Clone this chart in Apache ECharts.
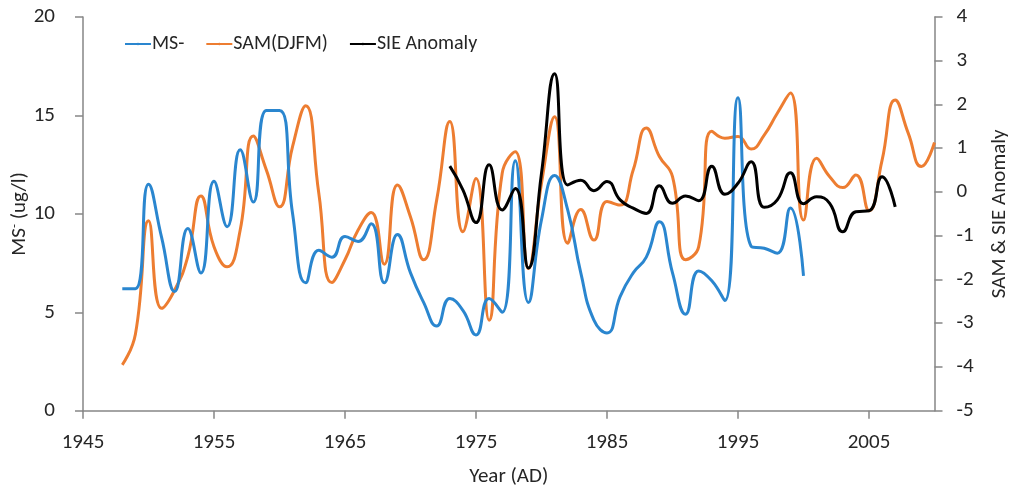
<!DOCTYPE html>
<html>
<head>
<meta charset="utf-8">
<script src="https://cdn.jsdelivr.net/npm/echarts@6/dist/echarts.min.js"></script>
<style>
  html, body { margin: 0; padding: 0; background: #fff; }
  #chart { width: 1019px; height: 492px; }
</style>
</head>
<body>
<div id="chart"></div>
<script>
// years 1948..2010
const years = [1948, 1949, 1950, 1951, 1952, 1953, 1954, 1955, 1956, 1957, 1958, 1959,
  1960, 1961, 1962, 1963, 1964, 1965, 1966, 1967, 1968, 1969, 1970, 1971, 1972, 1973,
  1974, 1975, 1976, 1977, 1978, 1979, 1980, 1981, 1982, 1983, 1984, 1985, 1986, 1987,
  1988, 1989, 1990, 1991, 1992, 1993, 1994, 1995, 1996, 1997, 1998, 1999, 2000, 2001,
  2002, 2003, 2004, 2005, 2006, 2007, 2008, 2009, 2010]

// MS- (ug/l), 1948..2000, left axis
const msValues = [6.2, 6.2, 11.5, 8.8, 6.05, 9.25, 7.0, 11.65, 9.35, 13.25, 10.6, 15.25,
  15.25, 10.0, 6.5, 8.15, 7.8, 8.85, 8.6, 9.5, 6.5, 8.95, 7.0, 5.5, 4.3, 5.7,
  5.1, 3.85, 5.7, 5.0, 12.7, 5.5, 9.7, 11.95, 10.2, 7.0, 4.6, 3.95, 5.8, 7.0,
  7.8, 9.6, 7.0, 4.9, 7.1, 6.6, 5.6, 15.9, 8.35, 8.25, 8.0, 10.3, 6.85]

// SAM (DJFM), 1948..2010, right axis
const samValues = [-3.95, -3.25, -0.66, -2.66, -2.24, -1.48, -0.09, -1.25, -1.71, -0.87, 1.28, 0.5,
  -0.34, 1.04, 1.97, -0.03, -2.07, -1.55, -0.87, -0.47, -1.65, 0.16, -0.57, -1.55, -0.18, 1.61,
  -0.91, 0.31, -2.93, 0.43, 0.92, -1.75, 0.2, 1.72, -1.17, -0.4, -1.1, -0.22, -0.3, 0.5,
  1.46, 0.81, 0.35, -1.55, -1.25, 1.39, 1.23, 1.27, 0.98, 1.3, 1.8, 2.26, -0.64, 0.77,
  0.35, 0.1, 0.39, -0.43, 0.73, 2.1, 1.34, 0.58, 1.13]

// SIE anomaly, 1973..2007, right axis
const sieValues = [0.59, 0.05, -0.7, 0.62, -0.41, 0.08, -1.74, 0.43, 2.7, 0.16, 0.27, 0.03,
  0.24, -0.18, -0.37, -0.49, 0.14, -0.26, -0.09, -0.2, 0.59, -0.05, 0.2, 0.69, -0.35,
  -0.18, 0.44, -0.27, -0.11, -0.26, -0.91, -0.45, -0.43, 0.35, -0.34]

const yearTicks = [1945, 1955, 1965, 1975, 1985, 1995, 2005]

const pairs = (startYear, values) => {
  const i0 = years.indexOf(startYear)
  return values.map((v, i) => [years[i0 + i], v])
}

const FONT = 'Carlito, Lato, sans-serif'
const AXIS_COLOR = '#868686'
const TEXT_COLOR = '#262626'

const chart = echarts.init(document.getElementById('chart'), null, { renderer: 'canvas' })

const option = {
  backgroundColor: '#fff',
  animation: false,
  textStyle: { fontFamily: FONT },
  legend: {
    data: ['MS-', 'SAM(DJFM)', 'SIE Anomaly'],
    left: 119,
    top: 29,
    itemWidth: 26,
    itemHeight: 3,
    itemGap: 21,
    textStyle: { fontSize: 20, color: TEXT_COLOR, fontFamily: FONT, padding: [0, 0, 0, -4] }
  },
  grid: {
    left: 83,
    right: 84.5,
    top: 17,
    bottom: 81.3,
    containLabel: false,
    outerBoundsMode: 'none'
  },
  xAxis: {
    type: 'value',
    min: 1945,
    max: 2010,
    name: 'Year (AD)',
    nameLocation: 'middle',
    nameGap: 56,
    nameMoveOverlap: false,
    nameTextStyle: { fontSize: 21, color: TEXT_COLOR, fontFamily: FONT },
    splitLine: { show: false },
    axisLine: { show: true, lineStyle: { color: AXIS_COLOR, width: 1.5 } },
    axisTick: { show: true, length: 8, lineStyle: { color: AXIS_COLOR, width: 1.5 }, customValues: yearTicks },
    axisLabel: {
      fontSize: 21,
      color: TEXT_COLOR,
      margin: 22,
      customValues: yearTicks,
      formatter: v => String(v)
    }
  },
  yAxis: [
    {
      type: 'value',
      min: 0,
      max: 20,
      interval: 5,
      position: 'left',
      name: '{a|MS}{s|-}{a| (ug/l)}',
      nameLocation: 'middle',
      nameRotate: 90,
      nameGap: 52,
      nameMoveOverlap: false,
      nameTextStyle: {
        color: TEXT_COLOR,
        rich: {
          a: { fontSize: 21, color: TEXT_COLOR, fontFamily: FONT },
          s: { fontSize: 13, color: TEXT_COLOR, fontFamily: FONT, padding: [0, 0, 10, 0] }
        }
      },
      splitLine: { show: false },
      axisLine: { show: true, lineStyle: { color: AXIS_COLOR, width: 1.5 } },
      axisTick: { show: true, length: 8, lineStyle: { color: AXIS_COLOR, width: 1.5 } },
      axisLabel: { fontSize: 21, color: TEXT_COLOR, margin: 28 }
    },
    {
      type: 'value',
      min: -5,
      max: 4,
      interval: 1,
      position: 'right',
      name: 'SAM & SIE Anomaly',
      nameLocation: 'middle',
      nameRotate: 90,
      nameGap: 55,
      nameMoveOverlap: false,
      nameTextStyle: { fontSize: 21, color: TEXT_COLOR, fontFamily: FONT },
      splitLine: { show: false },
      axisLine: { show: true, lineStyle: { color: AXIS_COLOR, width: 1.5 } },
      axisTick: { show: true, length: 8, lineStyle: { color: AXIS_COLOR, width: 1.5 } },
      axisLabel: { fontSize: 21, color: TEXT_COLOR, margin: 22 }
    }
  ],
  series: [
    {
      name: 'MS-',
      type: 'line',
      yAxisIndex: 0,
      data: pairs(1948, msValues),
      smooth: 0.5,
      symbol: 'none',
      z: 3,
      itemStyle: { color: '#2A86CF' },
      lineStyle: { width: 3, color: '#2A86CF' }
    },
    {
      name: 'SAM(DJFM)',
      type: 'line',
      yAxisIndex: 1,
      data: pairs(1948, samValues),
      smooth: 0.5,
      symbol: 'none',
      z: 2,
      itemStyle: { color: '#ED7D31' },
      lineStyle: { width: 3, color: '#ED7D31' }
    },
    {
      name: 'SIE Anomaly',
      type: 'line',
      yAxisIndex: 1,
      data: pairs(1973, sieValues),
      smooth: 0.5,
      symbol: 'none',
      z: 4,
      itemStyle: { color: '#000000' },
      lineStyle: { width: 3, color: '#000000' }
    }
  ]
}

chart.setOption(option)
</script>
</body>
</html>
